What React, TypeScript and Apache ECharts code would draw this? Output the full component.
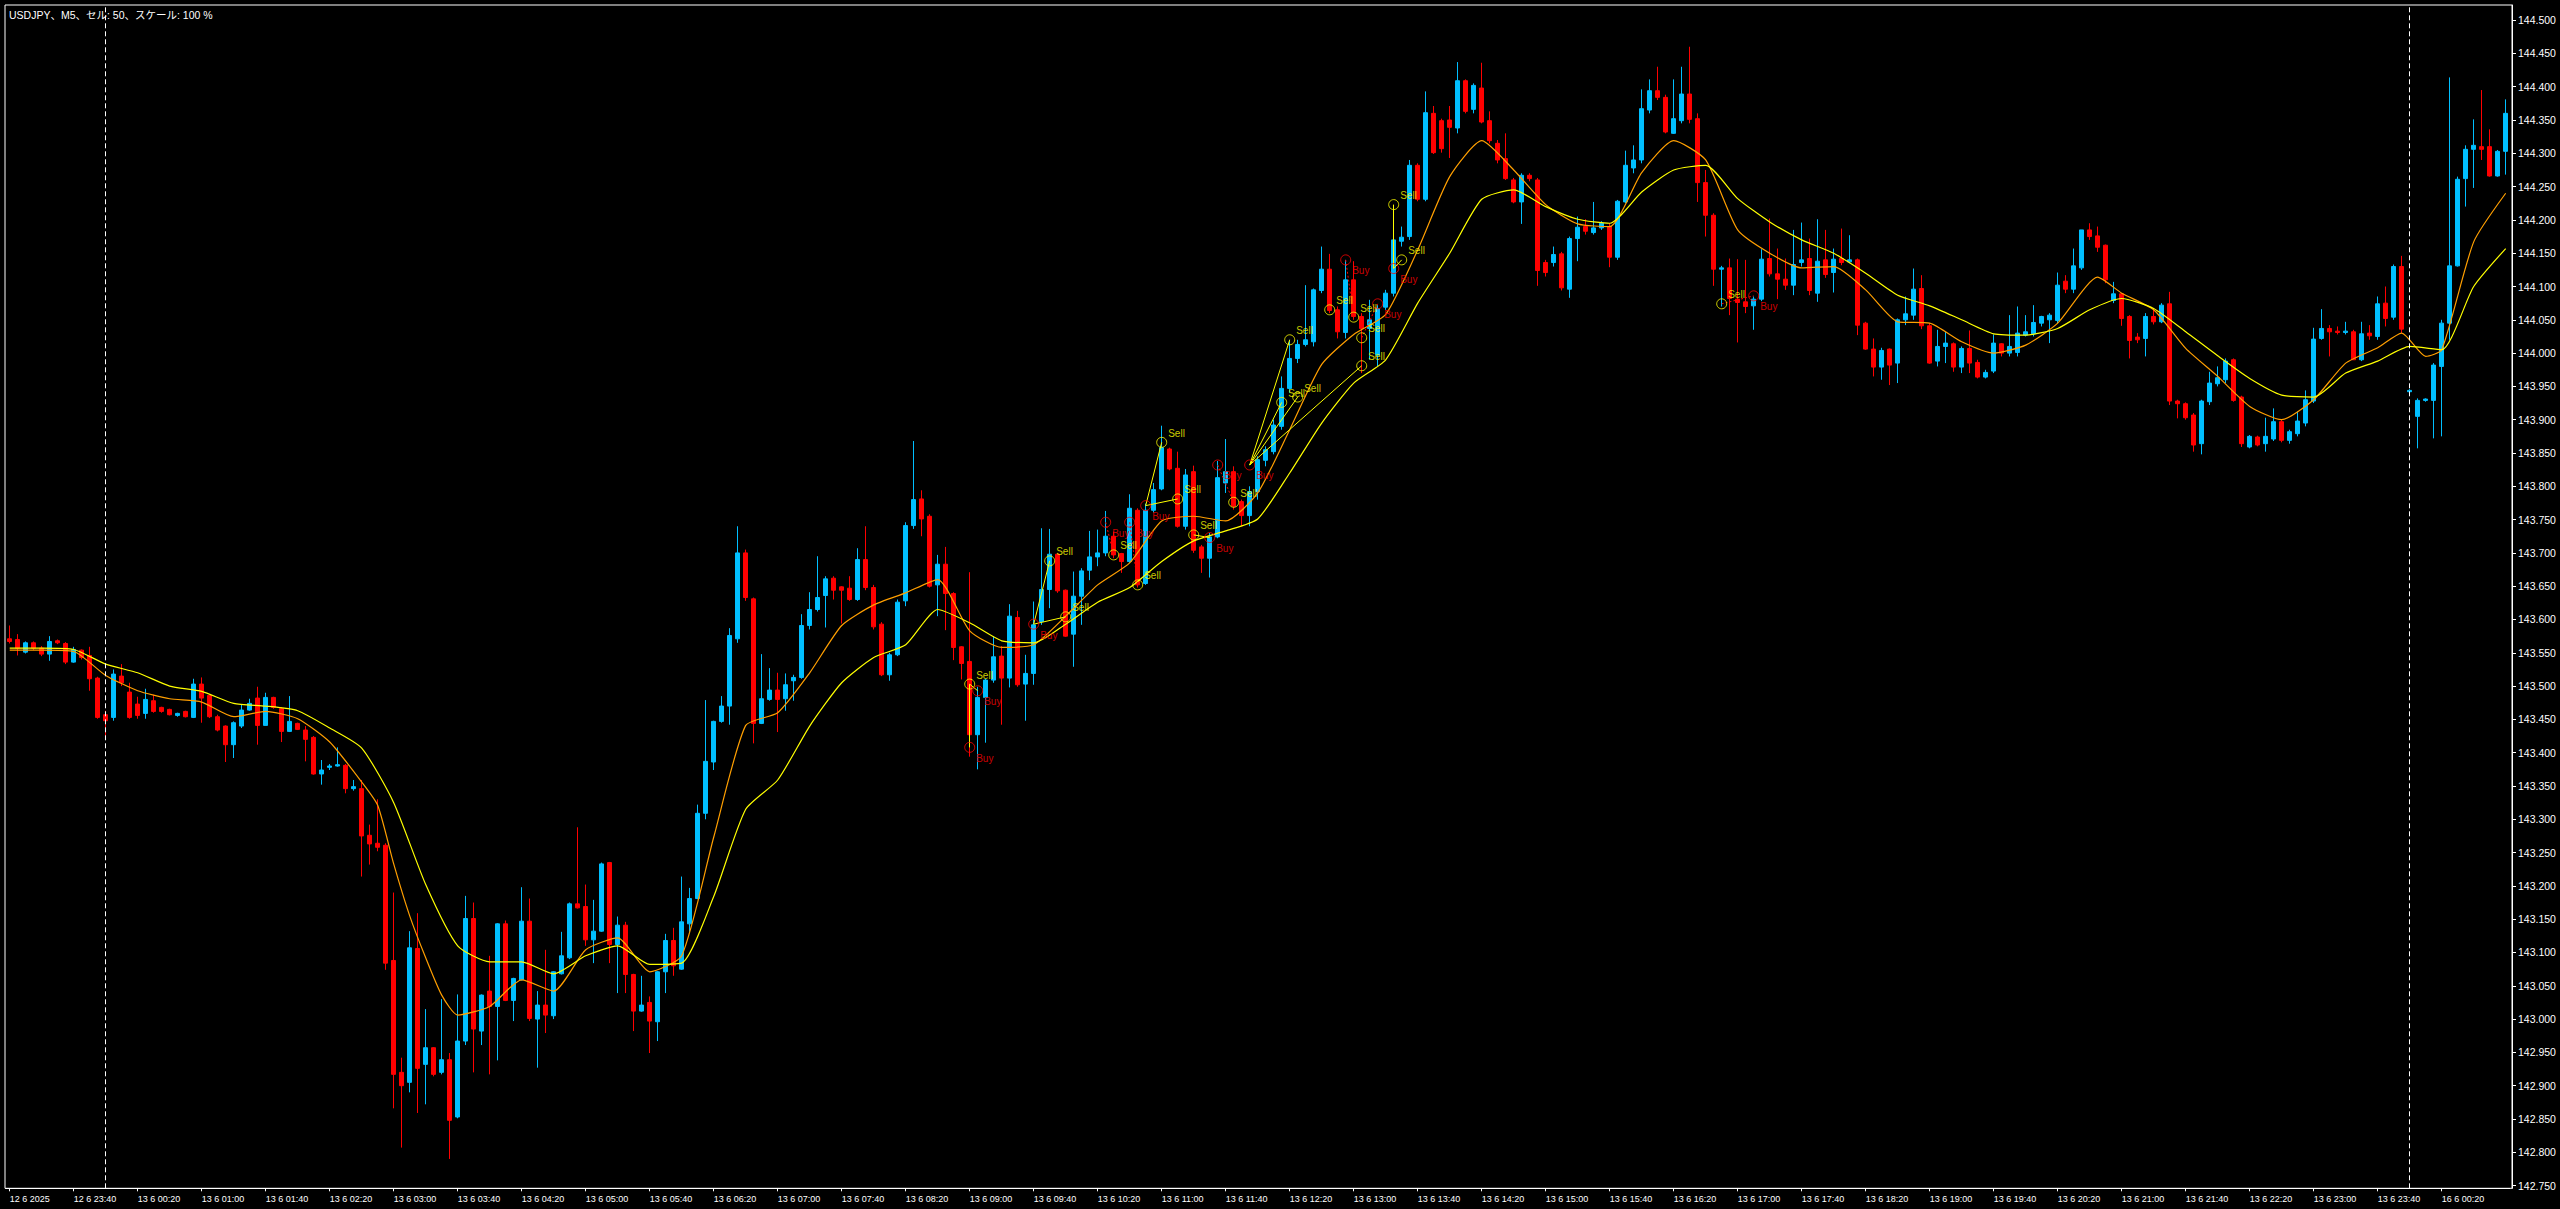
import React, { useEffect, useRef } from "react";
import * as echarts from "echarts";

const FONT = '"Liberation Sans", Arial, "Noto Sans CJK JP", sans-serif';

const titleText = "USDJPY、M5、セル: 50、スケール: 100 %";

const openP = [
  143.571,143.570,143.551,143.565,143.557,143.548,143.568,143.564,143.536,143.554,
  143.546,143.512,143.457,143.453,143.515,143.491,143.473,143.459,143.478,143.468,
  143.465,143.456,143.462,143.453,143.503,143.486,143.454,143.440,143.412,143.440,
  143.464,143.482,143.441,143.483,143.466,143.432,143.444,143.434,143.423,143.368,
  143.378,143.380,143.381,143.346,143.346,143.276,143.264,143.261,143.088,142.920,
  142.905,143.106,142.932,142.957,142.920,142.939,142.853,142.967,143.151,142.982,
  143.042,143.019,143.143,143.028,143.059,143.147,143.000,143.021,143.005,143.068,
  143.092,143.173,143.169,143.119,143.132,143.235,143.112,143.141,143.067,143.012,
  143.025,142.996,143.071,143.118,143.075,143.143,143.181,143.309,143.386,143.447,
  143.470,143.571,143.700,143.631,143.444,143.480,143.494,143.481,143.508,143.513,
  143.591,143.615,143.636,143.662,143.649,143.647,143.630,143.690,143.648,143.593,
  143.517,143.547,143.628,143.741,143.781,143.755,143.652,143.683,143.639,143.559,
  143.537,143.427,143.483,143.509,143.545,143.512,143.603,143.503,143.519,143.597,
  143.645,143.698,143.644,143.578,143.635,143.674,143.694,143.700,143.725,143.699,
  143.687,143.764,143.654,143.764,143.796,143.856,143.827,143.740,143.822,143.709,
  143.692,143.724,143.805,143.822,143.777,143.756,143.792,143.839,143.852,143.890,
  143.947,143.992,144.013,144.017,144.094,144.126,144.065,144.031,144.110,144.055,
  144.037,143.997,144.069,144.090,144.168,144.175,144.282,144.231,144.360,144.349,
  144.350,144.338,144.409,144.366,144.398,144.349,144.315,144.292,144.260,144.227,
  144.267,144.260,144.136,144.136,144.149,144.096,144.172,144.190,144.181,144.188,
  144.190,144.144,144.227,144.278,144.290,144.365,144.394,144.384,144.330,144.349,
  144.389,144.352,144.256,144.207,144.126,144.128,144.081,144.077,144.071,144.081,
  144.142,144.119,144.111,144.102,144.136,144.142,144.090,144.140,144.121,144.142,
  144.137,144.140,144.045,144.006,143.979,144.006,143.985,144.050,144.057,144.097,
  144.041,143.988,144.010,144.014,143.979,144.007,143.986,143.964,143.973,144.014,
  144.000,144.001,144.027,144.029,144.045,144.050,144.049,144.108,144.096,144.128,
  144.185,144.176,144.162,144.079,144.089,144.055,144.024,144.022,144.055,144.047,
  144.074,143.928,143.924,143.907,143.864,143.927,143.954,143.960,143.990,143.934,
  143.859,143.874,143.864,143.871,143.897,143.869,143.879,143.895,143.928,144.022,
  144.037,144.033,144.031,144.032,143.990,144.030,144.025,144.075,144.054,144.130,
  143.942,143.905,143.929,143.929,143.980,144.045,144.131,144.262,144.306,144.310,
  144.310,144.266,144.303,
];

const closeP = [
  143.567,143.557,143.565,143.557,143.548,143.567,143.565,143.536,143.555,143.543,
  143.511,143.453,143.448,143.518,143.505,143.453,143.456,143.480,143.462,143.462,
  143.457,143.459,143.454,143.503,143.482,143.454,143.434,143.412,143.445,143.464,
  143.474,143.441,143.483,143.468,143.432,143.447,143.435,143.420,143.368,143.374,
  143.380,143.382,143.346,143.349,143.275,143.263,143.258,143.084,142.917,142.900,
  143.107,142.926,142.957,142.917,142.939,142.848,142.967,143.151,142.985,143.036,
  143.019,143.143,143.028,143.061,143.147,143.001,143.021,143.006,143.071,143.095,
  143.173,143.167,143.119,143.132,143.233,143.112,143.141,143.067,143.012,143.021,
  142.997,143.071,143.118,143.080,143.146,143.181,143.309,143.387,143.447,143.470,
  143.576,143.700,143.633,143.444,143.481,143.494,143.480,143.502,143.513,143.591,
  143.615,143.633,143.661,143.644,143.644,143.630,143.690,143.648,143.589,143.517,
  143.547,143.626,143.741,143.780,143.751,143.650,143.683,143.639,143.558,143.534,
  143.427,143.483,143.509,143.544,143.512,143.605,143.502,143.519,143.592,143.645,
  143.698,143.643,143.575,143.635,143.673,143.694,143.700,143.725,143.697,143.687,
  143.767,143.652,143.764,143.795,143.858,143.826,143.740,143.817,143.704,143.692,
  143.724,143.813,143.822,143.770,143.756,143.792,143.840,143.855,143.892,143.947,
  143.992,144.013,144.020,144.095,144.126,144.064,144.032,144.110,144.055,144.037,
  144.050,144.067,144.090,144.170,144.174,144.282,144.231,144.361,144.301,144.307,
  144.339,144.409,144.363,144.402,144.347,144.319,144.290,144.262,144.227,144.267,
  144.262,144.124,144.121,144.148,144.098,144.172,144.189,144.183,144.188,144.195,
  144.144,144.228,144.282,144.290,144.367,144.394,144.384,144.332,144.352,144.389,
  144.351,144.256,144.207,144.126,144.128,144.082,144.076,144.070,144.081,144.141,
  144.119,144.111,144.102,144.133,144.140,144.094,144.138,144.118,144.141,144.136,
  144.140,144.042,144.006,143.979,144.004,143.982,144.050,144.059,144.096,144.041,
  143.985,144.010,144.015,143.979,144.007,143.985,143.964,143.971,144.015,144.000,
  144.010,144.030,144.032,144.046,144.055,144.057,144.102,144.096,144.131,144.185,
  144.175,144.159,144.110,144.089,144.052,144.019,144.020,144.055,144.047,144.072,
  143.928,143.924,143.903,143.862,143.928,143.955,143.963,143.988,143.929,143.864,
  143.875,143.862,143.875,143.897,143.869,143.882,143.898,143.930,144.021,144.037,
  144.032,144.031,144.033,143.990,144.029,144.026,144.074,144.052,144.130,144.036,
  143.944,143.929,143.931,143.982,144.045,144.131,144.261,144.306,144.312,144.306,
  144.266,144.303,144.360,
];

const lowP = [
  143.564,143.546,143.549,143.554,143.545,143.538,143.563,143.533,143.535,143.540,
  143.493,143.451,143.425,143.448,143.500,143.451,143.451,143.451,143.460,143.460,
  143.456,143.454,143.453,143.452,143.445,143.452,143.432,143.386,143.392,143.437,
  143.463,143.412,143.441,143.466,143.416,143.431,143.434,143.387,143.367,143.352,
  143.374,143.379,143.339,143.343,143.214,143.232,143.252,143.074,142.866,142.807,
  142.890,142.859,142.872,142.914,142.917,142.790,142.851,142.961,142.920,142.961,
  142.917,142.938,143.027,142.997,143.058,142.997,142.927,142.979,143.000,143.067,
  143.090,143.166,143.110,143.084,143.131,143.084,143.039,143.039,142.982,143.011,
  142.949,142.967,143.039,143.065,143.074,143.131,143.180,143.300,143.374,143.445,
  143.442,143.565,143.628,143.414,143.443,143.478,143.431,143.463,143.478,143.511,
  143.585,143.612,143.588,143.630,143.594,143.628,143.628,143.644,143.585,143.515,
  143.508,143.545,143.620,143.736,143.725,143.648,143.605,143.584,143.539,143.510,
  143.394,143.375,143.415,143.505,143.442,143.498,143.499,143.448,143.502,143.592,
  143.617,143.640,143.574,143.529,143.592,143.659,143.680,143.695,143.692,143.670,
  143.685,143.648,143.652,143.760,143.794,143.824,143.738,143.735,143.700,143.670,
  143.663,143.722,143.790,143.765,143.740,143.740,143.780,143.830,143.848,143.885,
  143.940,143.985,144.010,144.010,144.090,144.060,144.022,144.022,144.050,143.970,
  143.990,143.980,144.065,144.085,144.160,144.170,144.228,144.228,144.299,144.301,
  144.293,144.330,144.360,144.360,144.345,144.315,144.285,144.260,144.225,144.194,
  144.258,144.101,144.115,144.130,144.094,144.083,144.138,144.178,144.178,144.185,
  144.129,144.140,144.225,144.270,144.285,144.360,144.380,144.330,144.329,144.345,
  144.345,144.227,144.175,144.101,144.070,144.057,144.016,144.060,144.035,144.078,
  144.115,144.081,144.095,144.087,144.130,144.087,144.077,144.113,144.091,144.132,
  144.135,144.027,144.005,143.965,143.960,143.952,143.955,144.042,144.050,144.036,
  143.984,143.980,143.985,143.972,143.970,143.970,143.962,143.962,143.970,143.995,
  143.995,143.995,144.025,144.025,144.040,144.015,144.045,144.090,144.090,144.125,
  144.170,144.152,144.105,144.075,144.041,143.992,144.015,143.995,144.043,144.045,
  143.922,143.902,143.900,143.852,143.848,143.922,143.950,143.955,143.927,143.859,
  143.857,143.860,143.852,143.868,143.866,143.864,143.875,143.890,143.925,144.020,
  143.995,144.028,144.028,143.990,143.988,144.020,144.020,144.040,144.050,144.030,
  143.940,143.857,143.927,143.872,143.875,144.020,144.130,144.220,144.248,144.290,
  144.265,144.265,144.268,
];

const highP = [
  143.591,143.578,143.567,143.567,143.560,143.575,143.570,143.566,143.559,143.555,
  143.559,143.514,143.463,143.525,143.533,143.505,143.484,143.496,143.487,143.469,
  143.466,143.460,143.463,143.511,143.513,143.487,143.457,143.441,143.447,143.472,
  143.481,143.499,143.490,143.484,143.468,143.485,143.445,143.440,143.425,143.389,
  143.383,143.408,143.383,143.359,143.359,143.292,143.330,143.264,143.190,142.942,
  143.132,143.159,143.015,142.958,143.030,142.949,143.037,143.185,143.175,143.037,
  143.095,143.144,143.148,143.062,143.198,143.181,143.042,143.104,143.072,143.131,
  143.175,143.288,143.202,143.179,143.235,143.236,143.154,143.146,143.068,143.065,
  143.034,143.072,143.128,143.137,143.214,143.197,143.322,143.479,143.448,143.485,
  143.587,143.740,143.705,143.633,143.548,143.527,143.520,143.519,143.517,143.608,
  143.641,143.695,143.665,143.665,143.650,143.665,143.707,143.740,143.652,143.596,
  143.550,143.630,143.746,143.868,143.794,143.758,143.697,143.709,143.641,143.560,
  143.671,143.499,143.511,143.575,143.560,143.623,143.613,143.547,143.627,143.737,
  143.736,143.699,143.645,143.672,143.677,143.733,143.735,143.763,143.732,143.700,
  143.788,143.767,143.774,143.805,143.891,143.858,143.852,143.826,143.831,143.712,
  143.730,143.838,143.871,143.830,143.780,143.800,143.845,143.860,143.900,143.965,
  144.020,144.020,144.102,144.097,144.160,144.149,144.070,144.140,144.138,144.060,
  144.080,144.072,144.095,144.172,144.190,144.290,144.285,144.393,144.371,144.352,
  144.371,144.437,144.411,144.405,144.436,144.363,144.320,144.330,144.263,144.270,
  144.270,144.263,144.140,144.160,144.152,144.175,144.205,144.201,144.227,144.198,
  144.195,144.230,144.304,144.312,144.396,144.411,144.430,144.388,144.411,144.430,
  144.460,144.360,144.275,144.210,144.131,144.142,144.141,144.140,144.085,144.156,
  144.202,144.157,144.142,144.185,144.196,144.172,144.201,144.185,144.157,144.187,
  144.177,144.142,144.047,144.022,144.008,144.007,144.052,144.085,144.127,144.117,
  144.045,144.035,144.032,144.016,144.010,144.034,143.990,143.975,144.028,144.015,
  144.057,144.070,144.057,144.072,144.056,144.060,144.121,144.117,144.157,144.185,
  144.195,144.190,144.163,144.107,144.090,144.057,144.030,144.060,144.067,144.075,
  144.092,143.930,143.926,143.910,143.930,143.972,143.980,143.992,143.992,143.936,
  143.877,143.876,143.903,143.917,143.900,143.885,143.912,143.944,144.038,144.066,
  144.042,144.040,144.047,144.035,144.047,144.042,144.085,144.100,144.133,144.146,
  143.946,143.932,143.932,143.985,144.050,144.414,144.265,144.312,144.351,144.395,
  144.336,144.305,144.381,
];

// moving averages read at sampled bars: [barIndex, value]
const maFast = [
  [0,143.554],[4,143.554],[8,143.552],[12,143.516],[16,143.493],[20,143.481],[24,143.476],
  [28,143.454],[32,143.462],[36,143.451],[40,143.416],[44,143.356],[46,143.321],[48,143.233],
  [50,143.155],[52,143.092],[54,143.036],[56,143.006],[60,143.019],[64,143.059],[68,143.042],
  [72,143.104],[76,143.122],[80,143.071],[84,143.095],[88,143.273],[92,143.441],[96,143.460],
  [100,143.520],[104,143.591],[108,143.622],[112,143.640],[116,143.660],[120,143.583],
  [124,143.558],[128,143.562],[132,143.605],[136,143.652],[140,143.685],[144,143.748],
  [148,143.755],[152,143.748],[156,143.790],[160,143.885],[164,143.983],[168,144.028],
  [172,144.058],[176,144.155],[180,144.265],[184,144.319],[188,144.275],[192,144.223],
  [196,144.194],[200,144.190],[204,144.271],[208,144.319],[212,144.290],[216,144.185],
  [220,144.150],[224,144.128],[228,144.130],[232,144.095],[236,144.047],[240,144.045],
  [244,144.017],[248,144.000],[252,144.012],[256,144.045],[261,144.114],[264,144.090],
  [268,144.065],[272,144.007],[276,143.965],[280,143.920],[284,143.900],[288,143.930],
  [292,143.985],[296,144.008],[299,144.030],[302,143.995],[304,144.005],[308,144.167],
  [312,144.240],
];

const maSlow = [
  [0,143.557],[4,143.557],[8,143.555],[12,143.533],[16,143.520],[20,143.500],[24,143.492],
  [28,143.474],[32,143.470],[36,143.463],[40,143.437],[44,143.407],[48,143.325],[52,143.202],
  [56,143.110],[60,143.086],[64,143.086],[68,143.068],[72,143.095],[76,143.110],[80,143.082],
  [84,143.084],[88,143.184],[92,143.315],[96,143.359],[100,143.440],[104,143.505],
  [108,143.543],[112,143.562],[116,143.615],[120,143.595],[124,143.568],[128,143.565],
  [132,143.593],[136,143.626],[140,143.648],[144,143.687],[148,143.718],[152,143.733],
  [156,143.751],[160,143.820],[164,143.895],[168,143.955],[172,143.990],[176,144.075],
  [180,144.150],[184,144.231],[188,144.245],[192,144.220],[196,144.201],[200,144.195],
  [204,144.242],[208,144.275],[212,144.282],[216,144.232],[220,144.197],[224,144.170],
  [228,144.150],[232,144.120],[236,144.087],[240,144.071],[244,144.050],[248,144.029],
  [252,144.027],[256,144.037],[260,144.065],[264,144.082],[268,144.067],[272,144.032],
  [276,143.996],[280,143.962],[284,143.937],[288,143.934],[292,143.970],[296,143.988],
  [300,144.010],[304,144.005],[308,144.100],[312,144.157],
];

const sellSignals = [
  [120,143.503],[130,143.688],[132,143.604],[138,143.697],[141,143.652],[144,143.866],
  [146,143.781],[148,143.727],[153,143.776],[159,143.926],[160,144.020],[161,143.934],
  [165,144.065],[168,144.054],[169,144.023],[169,143.981],[173,144.223],[174,144.140],
  [214,144.074],
];

const buySignals = [
  [120,143.408],[121,143.493],[128,143.593],[137,143.746],[140,143.746],[142,143.771],
  [150,143.723],[151,143.832],[155,143.832],[167,144.140],[171,144.074],[173,144.127],
  [218,144.086],
];

// [fromBar, fromPrice, toBar, toPrice]
const winTrades = [
  [120,143.408,120,143.503],[120,143.503,121,143.493],[128,143.593,130,143.688],
  [128,143.593,132,143.604],[142,143.771,144,143.866],[142,143.771,146,143.781],
  [148,143.727,150,143.723],[155,143.832,159,143.926],[155,143.832,160,144.020],
  [155,143.832,161,143.934],[155,143.832,169,143.981],[173,144.127,173,144.223],
  [173,144.127,174,144.140],
];
const lossTrades = [
  [137,143.746,138,143.697],[140,143.746,141,143.652],[151,143.832,153,143.776],
  [167,144.140,168,144.054],[169,144.023,171,144.074],[214,144.074,218,144.086],
];

const xTickLabels = [
  "12 6 2025","12 6 23:40","13 6 00:20","13 6 01:00","13 6 01:40","13 6 02:20","13 6 03:00",
  "13 6 03:40","13 6 04:20","13 6 05:00","13 6 05:40","13 6 06:20","13 6 07:00","13 6 07:40",
  "13 6 08:20","13 6 09:00","13 6 09:40","13 6 10:20","13 6 11:00","13 6 11:40","13 6 12:20",
  "13 6 13:00","13 6 13:40","13 6 14:20","13 6 15:00","13 6 15:40","13 6 16:20","13 6 17:00",
  "13 6 17:40","13 6 18:20","13 6 19:00","13 6 19:40","13 6 20:20","13 6 21:00","13 6 21:40",
  "13 6 22:20","13 6 23:00","13 6 23:40","16 6 00:20",
];

const priceTicks = [
  142.75,142.80,142.85,142.90,142.95,143.00,143.05,143.10,143.15,143.20,143.25,143.30,
  143.35,143.40,143.45,143.50,143.55,143.60,143.65,143.70,143.75,143.80,143.85,143.90,
  143.95,144.00,144.05,144.10,144.15,144.20,144.25,144.30,144.35,144.40,144.45,144.50,
];

const separatorBars = [12, 300];

const pad2 = (n: number) => (n < 10 ? "0" + n : "" + n);
const categories: string[] = openP.map((_, i) => {
  let day: string;
  let mins: number;
  if (i < 12) { day = "12 6"; mins = 23 * 60 + i * 5; }
  else if (i < 300) { day = "13 6"; mins = (i - 12) * 5; }
  else { day = "16 6"; mins = (i - 300) * 5; }
  return day + " " + pad2(Math.floor(mins / 60)) + ":" + pad2(mins % 60);
});

const showTick = (index: number) => index % 8 === 0 && index <= 304;

export default function App() {
  const ref = useRef<HTMLDivElement>(null);
  useEffect(() => {
    document.body.style.margin = "0";
    document.body.style.background = "#000";
    if (!ref.current) return;
    const chart = echarts.init(ref.current, null, { renderer: "svg" });
    const candleData = openP.map((o, i) => [o, closeP[i], lowP[i], highP[i]]);
    const option: any = {
      animation: false,
      backgroundColor: "#000000",
      grid: {
        left: 5.7, top: 5, right: 50.3, bottom: 20.7,
        containLabel: false, outerBoundsMode: "none",
      },
      xAxis: {
        type: "category",
        data: categories,
        boundaryGap: true,
        axisLine: { show: true, lineStyle: { color: "#ffffff", width: 1 } },
        axisTick: {
          show: true, alignWithLabel: true, length: 3,
          interval: (index: number) => showTick(index),
          lineStyle: { color: "#ffffff" },
        },
        axisLabel: {
          interval: (index: number) => showTick(index),
          formatter: (_v: string, index: number) => xTickLabels[index / 8] ?? "",
          color: "#ffffff", fontSize: 9, fontFamily: FONT, align: "left", margin: 6,
        },
        splitLine: { show: false },
      },
      yAxis: {
        type: "value",
        position: "right",
        offset: 2.3,
        min: 142.7459,
        max: 144.5227,
        minInterval: 0.05,
        maxInterval: 0.05,
        splitNumber: 35,
        axisLine: { show: true, lineStyle: { color: "#ffffff", width: 1 } },
        axisTick: { show: true, length: 4, lineStyle: { color: "#ffffff" }, customValues: priceTicks },
        axisLabel: {
          customValues: priceTicks,
          showMinLabel: true, showMaxLabel: true,
          formatter: (v: number) => v.toFixed(3),
          color: "#ffffff", fontSize: 10.5, fontFamily: FONT, margin: 6,
        },
        splitLine: { show: false },
      },
      graphic: [
        {
          type: "rect", silent: true, z: 100,
          shape: { x: 5, y: 5, width: 2507, height: 1183.3 },
          style: { fill: "none", stroke: "#ffffff", lineWidth: 1 },
        },
        {
          type: "text", x: 9, y: 15, z: 101,
          style: {
            text: titleText, fill: "#ffffff", fontSize: 10.5, fontFamily: FONT,
            verticalAlign: "middle", align: "left",
          },
        },
      ],
      series: [
        {
          type: "candlestick",
          data: candleData,
          barWidth: 4,
          itemStyle: {
            color: "#00BFFF", color0: "#FF0000",
            borderColor: "#00BFFF", borderColor0: "#FF0000", borderWidth: 1,
          },
          markLine: {
            silent: true, symbol: ["none", "none"], label: { show: false },
            lineStyle: { color: "#ffffff", type: [5, 3], width: 1 },
            data: separatorBars.map((b) => ({ xAxis: categories[b] })),
          },
          z: 2,
        },
        {
          type: "line", data: maFast, showSymbol: false, smooth: 0.2,
          lineStyle: { color: "#FF9F00", width: 1.2 }, z: 3,
        },
        {
          type: "line", data: maSlow, showSymbol: false, smooth: 0.2,
          lineStyle: { color: "#FFFF00", width: 1.2 }, z: 3,
        },
        {
          type: "lines", coordinateSystem: "cartesian2d", symbol: ["none", "none"],
          lineStyle: { color: "#FFFF00", width: 1, opacity: 1, curveness: 0 },
          data: winTrades.map((t) => ({ coords: [[t[0], t[1]], [t[2], t[3]]] })),
          z: 4,
        },
        {
          type: "lines", coordinateSystem: "cartesian2d", symbol: ["none", "none"],
          lineStyle: { color: "#FF0000", width: 1, opacity: 1, type: [2, 2], curveness: 0 },
          data: lossTrades.map((t) => ({ coords: [[t[0], t[1]], [t[2], t[3]]] })),
          z: 4,
        },
        {
          type: "scatter", data: sellSignals, symbol: "circle", symbolSize: 10,
          itemStyle: { color: "rgba(0,0,0,0)", borderColor: "#FFFF00", borderWidth: 1 },
          label: {
            show: true, formatter: "Sell", position: "right", distance: 1, offset: [0, -9],
            color: "#FFFF00", fontSize: 10, fontFamily: FONT,
          },
          z: 5,
        },
        {
          type: "scatter", data: buySignals, symbol: "circle", symbolSize: 10,
          itemStyle: { color: "rgba(0,0,0,0)", borderColor: "#FF0000", borderWidth: 1 },
          label: {
            show: true, formatter: "Buy", position: "right", distance: 1, offset: [0, 11],
            color: "#FF0000", fontSize: 10, fontFamily: FONT,
          },
          z: 5,
        },
      ],
    };
    chart.setOption(option);
    return () => chart.dispose();
  }, []);
  return (
    <div
      ref={ref}
      style={{ position: "absolute", left: 0, top: 0, width: 2560, height: 1209, background: "#000" }}
    />
  );
}
